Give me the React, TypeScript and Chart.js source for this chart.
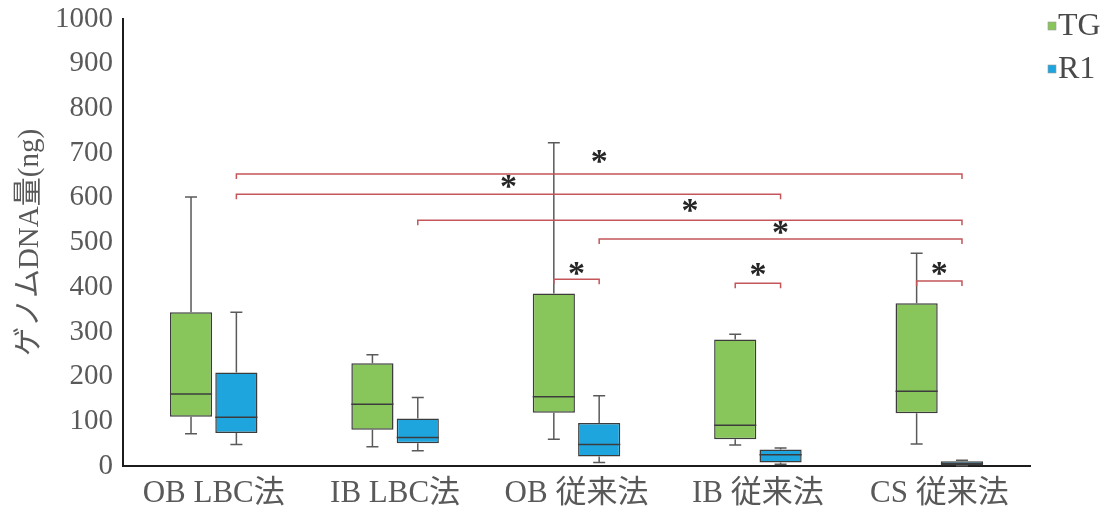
import React, { useEffect, useRef } from 'react';
import { Chart, registerables } from 'chart.js';

Chart.register(...registerables);

const categories = ['OB LBC法', 'IB LBC法', 'OB 従来法', 'IB 従来法', 'CS 従来法'];
const seriesNames = ['TG', 'R1'];
const seriesColors = ['#88c55a', '#1ea5de'];

const tgMin = [72, 43, 60, 47, 49];
const tgQ1 = [110, 81, 119, 60, 118];
const tgMedian = [161, 138, 155, 91, 167];
const tgQ3 = [344, 230, 386, 283, 364];
const tgMax = [602, 249, 723, 295, 476];

const r1Min = [48, 34, 8, 4, 0.5];
const r1Q1 = [74, 51, 21, 8, 1];
const r1Median = [109, 64, 48, 25, 5];
const r1Q3 = [209, 106, 96, 37, 10.5];
const r1Max = [344, 153, 157, 40, 13];

const yTickValues = [0, 100, 200, 300, 400, 500, 600, 700, 800, 900, 1000];

// significance brackets (category index, series index 0=TG 1=R1)
const bracketFromCat = [0, 0, 1, 2, 2, 3, 4];
const bracketFromSeries = [1, 1, 1, 1, 0, 0, 0];
const bracketToCat = [4, 3, 4, 4, 2, 3, 4];
const bracketToSeries = [1, 1, 1, 1, 1, 1, 1];
const bracketLevel = [653, 608, 550, 508, 418, 409, 414];
const starLevel = [693, 638, 584, 535, 443, 441, 443];

const SERIF = "'Liberation Serif', 'Noto Sans CJK JP', serif";

const stats = [
  { min: tgMin, q1: tgQ1, med: tgMedian, q3: tgQ3, max: tgMax },
  { min: r1Min, q1: r1Q1, med: r1Median, q3: r1Q3, max: r1Max },
];

const boxPlugin = {
  id: 'boxWhiskers',
  afterDatasetsDraw(chart: any) {
    const ctx = chart.ctx;
    const ys = chart.scales.y;
    ctx.save();
    chart.data.datasets.forEach((_ds: any, di: number) => {
      const meta = chart.getDatasetMeta(di);
      const s = stats[di];
      meta.data.forEach((el: any, i: number) => {
        const { x, width } = el.getProps(['x', 'width'], true);
        const pMin = ys.getPixelForValue(s.min[i]);
        const pQ1 = ys.getPixelForValue(s.q1[i]);
        const pMed = ys.getPixelForValue(s.med[i]);
        const pQ3 = ys.getPixelForValue(s.q3[i]);
        const pMax = ys.getPixelForValue(s.max[i]);
        ctx.strokeStyle = '#5a5a5a';
        ctx.lineWidth = 1.5;
        const cap = 6;
        ctx.beginPath();
        if (pMax < pQ3) {
          ctx.moveTo(x, pQ3);
          ctx.lineTo(x, pMax);
          ctx.moveTo(x - cap, pMax);
          ctx.lineTo(x + cap, pMax);
        }
        if (pMin > pQ1) {
          ctx.moveTo(x, pQ1);
          ctx.lineTo(x, pMin);
          ctx.moveTo(x - cap, pMin);
          ctx.lineTo(x + cap, pMin);
        }
        ctx.stroke();
        ctx.strokeStyle = '#3c3c3c';
        ctx.lineWidth = 1.5;
        ctx.beginPath();
        ctx.moveTo(x - width / 2, pMed);
        ctx.lineTo(x + width / 2, pMed);
        ctx.stroke();
      });
    });

    // significance brackets
    const getX = (cat: number, ser: number) => {
      const el = chart.getDatasetMeta(ser).data[cat];
      return el.getProps(['x'], true).x;
    };
    for (let b = 0; b < bracketLevel.length; b++) {
      const x1 = getX(bracketFromCat[b], bracketFromSeries[b]);
      const x2 = getX(bracketToCat[b], bracketToSeries[b]);
      const yb = ys.getPixelForValue(bracketLevel[b]);
      ctx.strokeStyle = '#c4565a';
      ctx.lineWidth = 1.5;
      ctx.beginPath();
      ctx.moveTo(x1, yb + 5);
      ctx.lineTo(x1, yb);
      ctx.lineTo(x2, yb);
      ctx.lineTo(x2, yb + 5);
      ctx.stroke();
      const yStar = ys.getPixelForValue(starLevel[b]);
      const size = 34;
      ctx.fillStyle = '#262626';
      ctx.font = `bold ${size}px ${SERIF}`;
      ctx.textAlign = 'center';
      ctx.textBaseline = 'alphabetic';
      ctx.fillText('*', (x1 + x2) / 2, yStar + size * 0.47);
    }
    ctx.restore();
  },
  afterDraw(chart: any) {
    const ctx = chart.ctx;
    ctx.save();
    const legendY = [26, 69];
    seriesNames.forEach((name, i) => {
      ctx.fillStyle = seriesColors[i];
      ctx.fillRect(1048, legendY[i] - 4, 8, 8);
      ctx.strokeStyle = '#9a9a9a';
      ctx.lineWidth = 0.6;
      ctx.strokeRect(1048, legendY[i] - 4, 8, 8);
      ctx.fillStyle = '#4a4a4a';
      ctx.font = `32px ${SERIF}`;
      ctx.textAlign = 'left';
      ctx.textBaseline = 'middle';
      ctx.fillText(name, 1058, legendY[i] + 1);
    });
    ctx.restore();
  },
};

export default function App() {
  const canvasRef = useRef<HTMLCanvasElement | null>(null);

  useEffect(() => {
    if (!canvasRef.current) return;
    const chart = new Chart(canvasRef.current, {
      type: 'bar',
      data: {
        labels: categories,
        datasets: seriesNames.map((name, di) => ({
          label: name,
          data: stats[di].q1.map((q1, i) => [q1, stats[di].q3[i]]),
          backgroundColor: seriesColors[di],
          borderColor: '#3c3c3c',
          borderWidth: 1.5,
          borderSkipped: false,
          categoryPercentage: 0.5,
          barPercentage: 0.93,
        })),
      },
      options: {
        responsive: true,
        maintainAspectRatio: false,
        animation: false,
        layout: { padding: { left: 0, top: 19, right: 82, bottom: 0 } },
        plugins: {
          legend: { display: false },
          tooltip: { enabled: false },
        },
        scales: {
          x: {
            grid: { display: false, drawTicks: false },
            border: { display: true, color: '#1c1c1c', width: 2 },
            ticks: {
              color: '#595959',
              font: { family: SERIF, size: 31 },
              padding: 9,
              maxRotation: 0,
              autoSkip: false,
            },
            afterFit(scale: any) {
              scale.height = 51;
              scale.paddingLeft = 0;
              scale.paddingRight = 0;
            },
          },
          y: {
            min: 0,
            max: 1000,
            grid: { display: false, drawTicks: false },
            border: { display: true, color: '#1c1c1c', width: 2 },
            afterBuildTicks(scale: any) {
              scale.ticks = yTickValues.map((v) => ({ value: v }));
            },
            ticks: {
              color: '#595959',
              font: { family: SERIF, size: 29 },
              padding: 10,
              callback: (v: any) => String(v),
            },
            title: {
              display: true,
              text: 'ゲノムDNA量(ng)',
              color: '#595959',
              font: { family: SERIF, size: 29 },
              padding: { top: 13, bottom: 0 },
            },
            afterFit(scale: any) {
              scale.width = 123;
              scale.paddingTop = 0;
              scale.paddingBottom = 0;
            },
          },
        },
      },
      plugins: [boxPlugin],
    });
    return () => chart.destroy();
  }, []);

  return (
    <div style={{ position: 'fixed', left: 0, top: 0, width: 1112, height: 517, background: '#ffffff' }}>
      <canvas ref={canvasRef} />
    </div>
  );
}
